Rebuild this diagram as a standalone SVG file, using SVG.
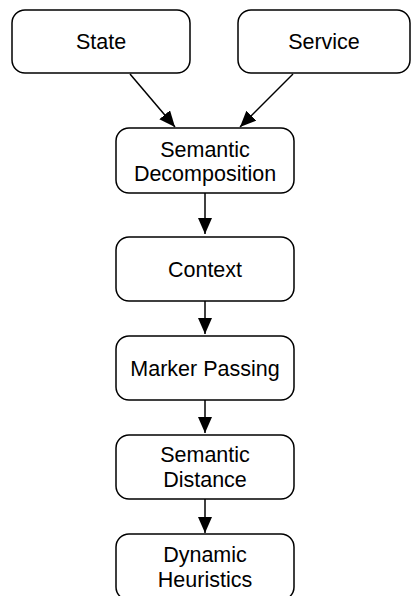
<svg xmlns="http://www.w3.org/2000/svg" width="411" height="596" viewBox="0 0 411 596">
<style>
.box{fill:#fff;stroke:#000;stroke-width:1.5}
.t{font-family:"Liberation Sans",Arial,Helvetica,sans-serif;font-size:21.5px;fill:#000;text-anchor:middle}
.c{stroke:#000;stroke-width:1.5;fill:none;marker-end:url(#ah)}
</style>
<defs>
<marker id="ah" markerUnits="userSpaceOnUse" markerWidth="17" markerHeight="15" refX="16" refY="7" orient="auto">
<path d="M0,0 L16,7 L0,14 Z" fill="#000"/>
</marker>
</defs>
<rect width="411" height="596" fill="#fff"/>
<g id="connectors">
<line class="c" x1="130" y1="74" x2="175" y2="127"/>
<line class="c" x1="293" y1="74" x2="240" y2="127"/>
<line class="c" x1="205" y1="193" x2="205" y2="234"/>
<line class="c" x1="205" y1="301" x2="205" y2="334"/>
<line class="c" x1="205" y1="400" x2="205" y2="433"/>
<line class="c" x1="205" y1="499" x2="205" y2="533"/>
</g>
<g id="state">
<rect class="box" x="12" y="10" width="178" height="63" rx="13"/>
<text class="t" x="101" y="49">State</text>
</g>
<g id="service">
<rect class="box" x="238" y="10" width="172" height="63" rx="13"/>
<text class="t" x="324" y="49">Service</text>
</g>
<g id="semantic-decomposition">
<rect class="box" x="116" y="128" width="178" height="65" rx="13"/>
<text class="t" x="205" y="157">Semantic</text>
<text class="t" x="205" y="181">Decomposition</text>
</g>
<g id="context">
<rect class="box" x="116" y="237" width="178" height="64" rx="13"/>
<text class="t" x="205" y="277">Context</text>
</g>
<g id="marker-passing">
<rect class="box" x="116" y="336" width="178" height="64" rx="13"/>
<text class="t" x="205" y="376">Marker Passing</text>
</g>
<g id="semantic-distance">
<rect class="box" x="116" y="435" width="178" height="64" rx="13"/>
<text class="t" x="205" y="462">Semantic</text>
<text class="t" x="205" y="487">Distance</text>
</g>
<g id="dynamic-heuristics">
<rect class="box" x="116" y="534" width="178" height="66" rx="13"/>
<text class="t" x="205" y="562">Dynamic</text>
<text class="t" x="205" y="587">Heuristics</text>
</g>
</svg>
